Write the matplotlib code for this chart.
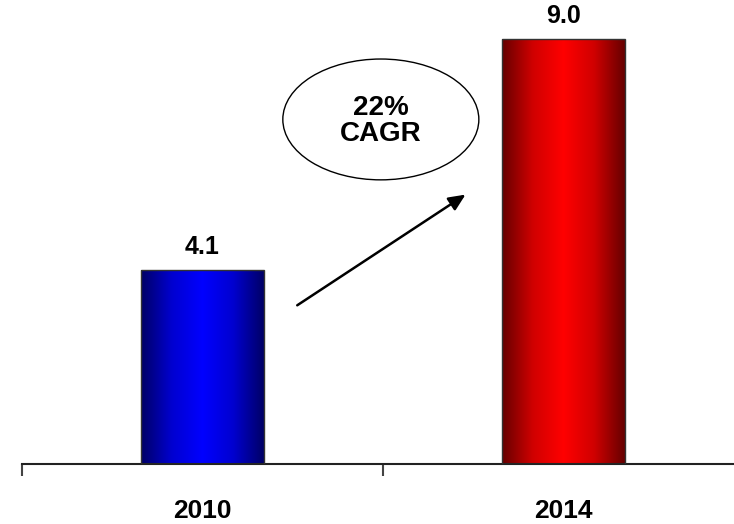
import numpy as np
import matplotlib
matplotlib.use("Agg")
import matplotlib.pyplot as plt
from matplotlib.colors import LinearSegmentedColormap
from matplotlib.patches import Ellipse

plt.rcParams['font.family'] = ['Liberation Sans', 'DejaVu Sans']

years = ["2010", "2014"]
values = [4.1, 9.0]
value_labels = ["4.1", "9.0"]
cagr_label = "22%\nCAGR"

W, H = 734, 524
fig = plt.figure(figsize=(W / 100, H / 100), dpi=100)
# axes spans from first boundary tick to a point just past the right edge
left_px, right_px, base_px, top_px = 22, 744, 464, 0
ax = fig.add_axes([left_px / W, 1 - base_px / H, (right_px - left_px) / W, (base_px - top_px) / H])
ax.set_xlim(-0.5, 1.5)
ax.set_ylim(0, 464 / 47.2)

x = np.arange(len(years))
bar_w = 0.34
bars = ax.bar(x, values, width=bar_w, color='none', edgecolor='#333333', linewidth=1.0, zorder=3)

cmaps = [
    LinearSegmentedColormap.from_list('blue_grad', ['#000066', '#0000d0', '#0000ff', '#0000d0', '#000066']),
    LinearSegmentedColormap.from_list('red_grad', ['#660000', '#d00000', '#ff0000', '#d00000', '#660000']),
]
grad = np.linspace(0, 1, 256).reshape(1, -1)
for b, cm in zip(bars, cmaps):
    x0, y0 = b.get_x(), b.get_y()
    w, h = b.get_width(), b.get_height()
    im = ax.imshow(grad, cmap=cm, aspect='auto', extent=[x0, x0 + w, y0, y0 + h], zorder=2)
    im.set_clip_path(b)

for xi, v, lab in zip(x, values, value_labels):
    ax.annotate(lab, (xi, v), xytext=(0, 17), textcoords='offset points',
                ha='center', va='center', fontsize=18, fontweight='bold', color='black')

# growth arrow
ax.annotate('', xy=(0.735, 5.74), xytext=(0.256, 3.33),
            arrowprops=dict(arrowstyle='-|>,head_length=1.0,head_width=0.45', color='black', lw=1.8), zorder=4)

# CAGR bubble
ell = Ellipse((0.494, 7.3), 0.543, 2.56, facecolor='white', edgecolor='black', linewidth=1.0, zorder=4)
ax.add_patch(ell)
ax.text(0.494, 7.26, cagr_label, ha='center', va='center', fontsize=20, fontweight='bold',
        linespacing=1.0, zorder=5)

for s in ['top', 'right', 'left']:
    ax.spines[s].set_visible(False)
ax.spines['bottom'].set_color('#222222')
ax.spines['bottom'].set_linewidth(1.5)
ax.set_yticks([])

ax.set_xticks([-0.5, 0.5, 1.5])
ax.set_xticklabels([])
ax.tick_params(axis='x', which='major', length=8.5, width=1.5, color='#444444', direction='out')
ax.set_xticks(x, minor=True)
ax.set_xticklabels(years, minor=True)
ax.tick_params(axis='x', which='minor', length=0, pad=25, labelsize=19)
for t in ax.get_xticklabels(minor=True):
    t.set_fontweight('bold')

fig.savefig('out.png', dpi=100)
